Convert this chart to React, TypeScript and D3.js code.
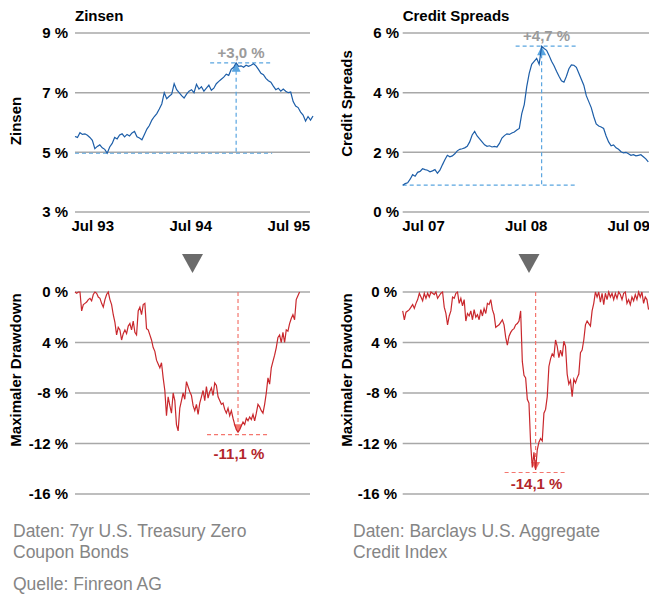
import React from "react";
import * as d3 from "d3";

const FONT = "'Liberation Sans', Arial, Helvetica, sans-serif";

// 7yr zero coupon yield in %, Apr 93 - Sep 95
const zinsen = [
  5.53, 5.50, 5.66, 5.60, 5.62, 5.57, 5.50, 5.40, 5.12, 5.20,
  5.25, 5.15, 5.10, 4.97, 5.18, 5.30, 5.50, 5.45, 5.58, 5.62,
  5.52, 5.60, 5.55, 5.65, 5.70, 5.52, 5.48, 5.42, 5.60, 5.78,
  5.90, 6.08, 6.20, 6.30, 6.45, 6.62, 7.00, 6.80, 6.88, 6.95,
  7.30, 7.10, 7.00, 6.90, 6.82, 6.95, 7.05, 7.10, 7.00, 7.28,
  7.12, 7.20, 7.05, 7.15, 7.25, 7.08, 7.15, 7.30, 7.38, 7.45,
  7.52, 7.62, 7.58, 7.78, 7.85, 8.00, 7.88, 7.90, 7.85, 7.92,
  7.88, 7.92, 7.97, 7.90, 7.78, 7.65, 7.60, 7.48, 7.40, 7.35,
  7.22, 7.10, 7.15, 7.05, 7.12, 7.05, 7.00, 7.02, 6.70, 6.55,
  6.50, 6.35, 6.25, 6.05, 6.20, 6.08, 6.22,
];

// credit spreads in %, Apr 07 - Sep 09
const spreads = [
  0.90, 0.95, 0.98, 1.10, 1.25, 1.20, 1.33, 1.36, 1.45, 1.42,
  1.40, 1.35, 1.38, 1.42, 1.30, 1.40, 1.58, 1.75, 1.90, 1.85,
  1.88, 1.95, 2.05, 2.10, 2.12, 2.15, 2.20, 2.35, 2.58, 2.70,
  2.55, 2.45, 2.35, 2.25, 2.20, 2.22, 2.18, 2.20, 2.18, 2.30,
  2.48, 2.56, 2.62, 2.60, 2.65, 2.68, 2.75, 2.80, 3.30, 3.60,
  4.20, 4.65, 4.95, 5.05, 5.15, 4.95, 5.56, 5.48, 5.42, 5.25,
  5.05, 4.90, 4.72, 4.55, 4.40, 4.35, 4.55, 4.80, 4.93, 4.92,
  4.85, 4.65, 4.45, 4.25, 3.90, 3.70, 3.50, 3.20, 2.95, 2.88,
  2.85, 2.80, 2.55, 2.35, 2.22, 2.25, 2.15, 2.10, 2.02, 1.98,
  2.00, 1.95, 1.90, 1.92, 1.88, 1.90, 1.92, 1.85, 1.78, 1.68,
];

// drawdown of the treasury bonds in %, Apr 93 - Aug 95
const ddZinsen = [
  0, -0.1, 0, 0, -1.5, -1.0, -0.9, -0.8, -0.6, -0.5,
  -0.7, -0.2, 0, -0.1, -0.4, -0.5, -0.9, -1.2, -0.6, -0.2,
  0, -0.6, -1.0, -1.8, -2.4, -3.4, -2.8, -3.0, -3.8, -3.3,
  -3.0, -3.3, -2.7, -2.5, -3.0, -2.3, -3.2, -3.4, -1.5, -1.2,
  -1.8, -1.0, -0.9, -2.9, -3.0, -3.4, -3.8, -4.4, -4.7, -5.4,
  -5.7, -6.0, -5.6, -6.8, -7.8, -9.8, -8.3, -9.0, -9.6, -8.0,
  -8.6, -10.5, -11.0, -9.2, -8.6, -8.0, -8.5, -7.1, -7.5, -7.9,
  -8.2, -9.0, -9.4, -8.9, -9.7, -8.8, -8.3, -7.8, -8.6, -7.5,
  -8.4, -7.9, -7.6, -8.2, -7.2, -7.4, -8.3, -8.6, -8.9, -8.8,
  -9.3, -9.6, -9.2, -9.8, -9.4, -10.0, -10.5, -10.9, -11.1, -10.9,
  -10.6, -10.3, -10.5, -10.0, -10.2, -9.9, -10.1, -9.7, -10.2, -9.6,
  -8.9, -9.1, -9.4, -9.6, -8.9, -8.0, -6.8, -7.3, -6.0, -5.5,
  -5.0, -4.4, -3.6, -3.4, -4.0, -3.2, -4.0, -3.0, -3.1, -2.5,
  -2.1, -1.8, -2.2, -0.6, -0.3, 0,
];

// drawdown of the credit index in %, Apr 07 - Sep 09
const ddSpreads = [
  -1.5, -2.2, -1.6, -1.5, -1.4, -1.2, -1.0, -1.3, -0.9, -0.6,
  -0.1, -0.4, -0.7, -0.1, -0.5, -0.1, -0.4, 0, -0.1, -0.2,
  0, -0.5, -0.3, -0.1, 0, -1.2, -1.7, -2.6, -1.9, -1.5,
  -0.4, -0.5, -0.1, 0, -0.9, -0.5, -1.1, -0.6, -2.3, -1.7,
  -1.9, -1.5, -2.2, -1.4, -2.0, -1.8, -2.2, -1.4, -1.9, -1.3,
  -1.7, -0.9, -1.0, -0.6, -1.4, -1.8, -2.8, -2.7, -2.6, -2.4,
  -2.2, -2.6, -3.6, -4.2, -3.5, -3.2, -3.0, -2.9, -2.6, -2.5,
  -2.3, -1.5, -5.5, -6.6, -6.8, -8.5, -8.8, -12.0, -13.9, -12.7,
  -14.1, -12.5, -11.9, -11.6, -11.8, -9.6, -9.3, -8.3, -5.9, -5.3,
  -4.9, -5.1, -3.8, -4.3, -5.2, -4.6, -5.1, -3.9, -4.3, -6.5,
  -7.3, -7.0, -8.3, -6.9, -7.2, -6.8, -6.5, -4.8, -4.6, -3.8,
  -2.6, -2.3, -2.5, -2.7, -1.5, -0.9, 0, -0.4, 0, -0.8,
  -0.1, -1.0, -0.1, -0.6, 0, -0.4, -0.1, -0.6, -0.1, -0.5,
  0, -0.2, -0.6, -0.1, 0, -0.9, -0.6, -1.0, -0.4, -0.7,
  -0.2, -0.6, 0, -0.4, 0, -0.9, -0.4, -0.6, -1.4,
];

const zinsenTicks = [9, 7, 5, 3];
const spreadTicks = [6, 4, 2, 0];
const ddTicks = [0, -4, -8, -12, -16];
const ddTickLabels = ["0 %", "4 %", "-8 %", "-12 %", "-16 %"];
const leftXTicks = ["1993-07-01", "1994-07-01", "1995-07-01"];
const rightXTicks = ["2007-07-01", "2008-07-01", "2009-07-01"];

const footLeft = ["Daten: 7yr U.S. Treasury Zero", "Coupon Bonds"];
const footRight = ["Daten: Barclays U.S. Aggregate", "Credit Index"];
const source = "Quelle: Finreon AG";

const fmtMonth = d3.utcFormat("%b %y");
const comma = (v: number) => v.toFixed(1).replace(".", ",") + " %";

// spread n points evenly between two dates
function spreadDates(start: string, end: string, n: number) {
  const t = d3.scaleLinear().domain([0, n - 1]).range([+new Date(start), +new Date(end)]);
  return d3.range(n).map((i) => new Date(t(i)));
}

type PanelProps = {
  values: number[];
  start: string;
  end: string;
  xDomain: [string, string];
  xRange: [number, number];
  gridRight: number;
  yDomain: [number, number];
  yRange: [number, number];
  yTicks: number[];
  yTickLabels: string[];
  tickRight: number;
  xTicks?: string[];
  title?: string;
  yTitle: string;
  yTitleX: number;
  yTitleY: number;
  color: string;
  markColor: string;
  labelColor: string;
  mode: "peak" | "trough";
  labelDy: number;
};

function Panel(p: PanelProps) {
  const x = d3.scaleUtc().domain(p.xDomain.map((d) => new Date(d))).range(p.xRange);
  const y = d3.scaleLinear().domain(p.yDomain).range(p.yRange);
  const dates = spreadDates(p.start, p.end, p.values.length);
  const line = d3.line<number>().x((d, i) => x(dates[i])).y((d) => y(d));

  let annotation;
  if (p.mode === "peak") {
    const idx = d3.maxIndex(p.values);
    const hi = p.values[idx];
    const lo = d3.min(p.values)!;
    const px = x(dates[idx]);
    const yHi = y(hi);
    const yLo = y(lo);
    annotation = (
      <g stroke={p.markColor} strokeWidth={1.2} strokeDasharray="4,3" fill="none">
        <line x1={p.xRange[0]} x2={px + 36} y1={yLo} y2={yLo} />
        <line x1={px - 26} x2={px + 35} y1={yHi} y2={yHi} />
        <line x1={px} x2={px} y1={yHi + 8} y2={yLo} />
        <polygon
          points={`${px},${yHi} ${px - 4.5},${yHi + 9} ${px + 4.5},${yHi + 9}`}
          fill={p.markColor}
          stroke="none"
        />
        <text
          x={px + 5}
          y={yHi - 5}
          textAnchor="middle"
          fill={p.labelColor}
          stroke="none"
          fontWeight="bold"
          fontSize={15}
        >
          {"+" + comma(hi - lo)}
        </text>
      </g>
    );
  } else {
    const idx = d3.minIndex(p.values);
    const lo = p.values[idx];
    const px = x(dates[idx]);
    const yLo = y(lo);
    annotation = (
      <g stroke={p.markColor} strokeWidth={1.2} strokeDasharray="4,3" fill="none">
        <line x1={px} x2={px} y1={y(0)} y2={yLo - 7} />
        <line x1={px - 31} x2={px + 32} y1={yLo + 2.5} y2={yLo + 2.5} />
        <polygon
          points={`${px},${yLo} ${px - 4.5},${yLo - 8} ${px + 4.5},${yLo - 8}`}
          fill={p.markColor}
          stroke="none"
        />
        <text
          x={px + 1}
          y={yLo + p.labelDy}
          textAnchor="middle"
          fill={p.labelColor}
          stroke="none"
          fontWeight="bold"
          fontSize={15}
        >
          {comma(lo)}
        </text>
      </g>
    );
  }

  return (
    <g>
      {p.title && (
        <text x={p.xRange[0]} y={20.5} fontWeight="bold" fontSize={15}>
          {p.title}
        </text>
      )}
      {p.yTicks.map((t) => (
        <line key={t} x1={p.xRange[0]} x2={p.gridRight} y1={y(t)} y2={y(t)} stroke="#a8a8a8" strokeWidth={1.5} />
      ))}
      {p.yTicks.map((t, i) => (
        <text key={t} x={p.tickRight} y={y(t)} dy="0.36em" textAnchor="end" fontWeight="bold" fontSize={15}>
          {p.yTickLabels[i]}
        </text>
      ))}
      {p.xTicks &&
        p.xTicks.map((d) => (
          <text key={d} x={x(new Date(d))} y={231} textAnchor="middle" fontWeight="bold" fontSize={15}>
            {fmtMonth(new Date(d))}
          </text>
        ))}
      <text
        transform={`translate(${p.yTitleX},${p.yTitleY}) rotate(-90)`}
        textAnchor="middle"
        fontWeight="bold"
        fontSize={15}
      >
        {p.yTitle}
      </text>
      {annotation}
      <path d={line(p.values) ?? ""} fill="none" stroke={p.color} strokeWidth={1.2} />
    </g>
  );
}

export default function App() {
  const blue = "#1d5ea8";
  const red = "#c9282d";
  const leftX: [number, number] = [75, 313];
  const rightX: [number, number] = [402.7, 648.3];
  const leftDom: [string, string] = ["1993-04-26", "1995-09-29"];
  const rightDom: [string, string] = ["2007-04-18", "2009-09-09"];

  return (
    <div style={{ position: "absolute", left: 0, top: 0 }}>
      <svg width={649} height={594} style={{ display: "block", fontFamily: FONT }}>
        <rect width={649} height={594} fill="#fff" />
        <Panel
          values={zinsen}
          start="1993-04-26"
          end="1995-09-29"
          xDomain={leftDom}
          xRange={leftX}
          gridRight={310}
          yDomain={[3, 9]}
          yRange={[212, 33]}
          yTicks={zinsenTicks}
          yTickLabels={zinsenTicks.map((t) => `${t} %`)}
          tickRight={68}
          xTicks={leftXTicks}
          title="Zinsen"
          yTitle="Zinsen"
          yTitleX={21}
          yTitleY={121}
          color={blue}
          markColor="#5aa5e0"
          labelColor="#9b9b9b"
          mode="peak"
          labelDy={0}
        />
        <Panel
          values={spreads}
          start="2007-04-18"
          end="2009-09-09"
          xDomain={rightDom}
          xRange={rightX}
          gridRight={649}
          yDomain={[0, 6]}
          yRange={[212, 33]}
          yTicks={spreadTicks}
          yTickLabels={spreadTicks.map((t) => `${t} %`)}
          tickRight={399}
          xTicks={rightXTicks}
          title="Credit Spreads"
          yTitle="Credit Spreads"
          yTitleX={351.5}
          yTitleY={103.5}
          color={blue}
          markColor="#5aa5e0"
          labelColor="#9b9b9b"
          mode="peak"
          labelDy={0}
        />
        <Panel
          values={ddZinsen}
          start="1993-04-26"
          end="1995-08-10"
          xDomain={leftDom}
          xRange={leftX}
          gridRight={310}
          yDomain={[-16, 0]}
          yRange={[494, 292]}
          yTicks={ddTicks}
          yTickLabels={ddTickLabels}
          tickRight={68}
          yTitle="Maximaler Drawdown"
          yTitleX={21}
          yTitleY={370}
          color={red}
          markColor="#f4766e"
          labelColor="#b3262b"
          mode="trough"
          labelDy={27}
        />
        <Panel
          values={ddSpreads}
          start="2007-04-18"
          end="2009-09-10"
          xDomain={rightDom}
          xRange={rightX}
          gridRight={649}
          yDomain={[-16, 0]}
          yRange={[494, 292]}
          yTicks={ddTicks}
          yTickLabels={ddTickLabels}
          tickRight={397}
          yTitle="Maximaler Drawdown"
          yTitleX={351.5}
          yTitleY={370}
          color={red}
          markColor="#f4766e"
          labelColor="#b3262b"
          mode="trough"
          labelDy={19}
        />
        {[192.5, 529].map((cx) => (
          <polygon key={cx} points={`${cx - 10.5},254 ${cx + 10.5},254 ${cx},273`} fill="#6b6b6b" />
        ))}
        <g fill="#858585" fontSize={17.5}>
          {footLeft.map((s, i) => (
            <text key={s} x={13} y={537 + i * 21}>
              {s}
            </text>
          ))}
          {footRight.map((s, i) => (
            <text key={s} x={353} y={537 + i * 21}>
              {s}
            </text>
          ))}
          <text x={13} y={590}>
            {source}
          </text>
        </g>
      </svg>
    </div>
  );
}
